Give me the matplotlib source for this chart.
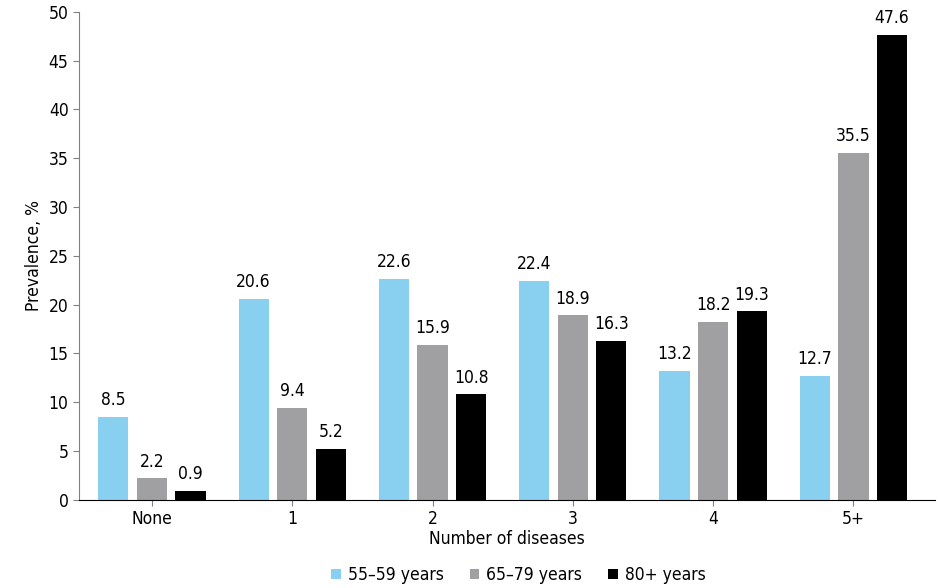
import numpy as np
import matplotlib.pyplot as plt
from matplotlib import font_manager

fams = {f.name for f in font_manager.fontManager.ttflist}
narrow = 'Liberation Sans Narrow' if 'Liberation Sans Narrow' in fams else 'DejaVu Sans'
plt.rcParams['font.family'] = [narrow, 'DejaVu Sans']
plt.rcParams['font.stretch'] = 'condensed'

categories = ['None', '1', '2', '3', '4', '5+']
series_names = ['55\u201359 years', '65\u201379 years', '80+ years']
v_55_59 = [8.5, 20.6, 22.6, 22.4, 13.2, 12.7]
v_65_79 = [2.2, 9.4, 15.9, 18.9, 18.2, 35.5]
v_80plus = [0.9, 5.2, 10.8, 16.3, 19.3, 47.6]
colors = ['#89CFF0', '#A0A0A2', '#000000']

fig = plt.figure(figsize=(9.51, 5.88), dpi=100)
ax = fig.add_axes([0.083, 0.150, 0.900, 0.830])

x = np.arange(len(categories))
w = 0.215
off = 0.275
for i, (vals, name, col) in enumerate(zip([v_55_59, v_65_79, v_80plus], series_names, colors)):
    bars = ax.bar(x + (i - 1) * off, vals, w, color=col, label=name)
    for b, v in zip(bars, vals):
        ax.text(b.get_x() + b.get_width() / 2, v + 0.8, f'{v:.1f}',
                ha='center', va='bottom', fontsize=12.5)

ax.set_xlim(-0.52, 5.58)
ax.set_ylim(0, 50)
ax.set_yticks(range(0, 51, 5))
ax.set_xticks(x)
ax.set_xticklabels(categories)
ax.tick_params(axis='both', labelsize=12.5, colors='#808080', labelcolor='black', length=4)
for s in ['top', 'right']:
    ax.spines[s].set_visible(False)
ax.spines['left'].set_color('#808080')
ax.spines['bottom'].set_color('black')
ax.set_ylabel('Prevalence, %', fontsize=12.5)
ax.set_xlabel('Number of diseases', fontsize=12.5, labelpad=1)

fig.legend(loc='lower center', bbox_to_anchor=(0.545, -0.02), ncol=3, frameon=False,
           fontsize=12.5, handlelength=0.55, handleheight=0.55, handletextpad=0.4,
           columnspacing=1.5)

fig.savefig('out.png', dpi=100)
